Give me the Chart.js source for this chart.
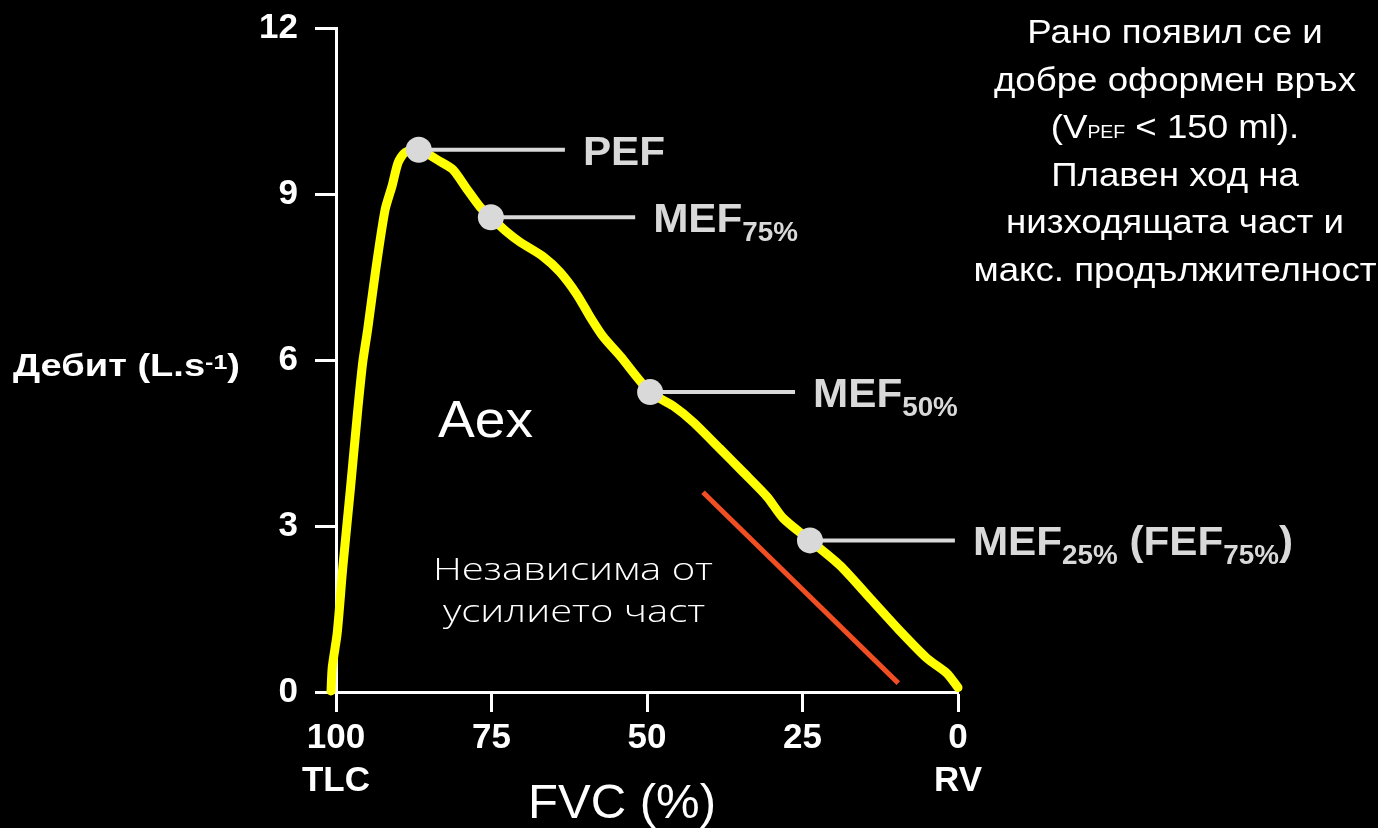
<!DOCTYPE html>
<html>
<head>
<meta charset="utf-8">
<script src="https://cdn.jsdelivr.net/npm/chart.js@4.4.1/dist/chart.umd.min.js"></script>
<style>
  html, body { margin: 0; padding: 0; background: #000; }
  #wrap { width: 1378px; height: 828px; position: relative; background: #000; }
  canvas { display: block; }
</style>
</head>
<body>
<div id="wrap"><canvas id="c" width="1378" height="828"></canvas></div>
<script>
// ---- data ----
const fvcPercent = [100.8, 100.6, 99.8, 98.9, 97.7, 96.5, 95.7, 94.9, 93.6, 92.1,
                    91.0, 90.0, 88.9, 86.7, 83.3, 81.2, 78.9, 76.8, 75.1, 72.5,
                    70.4, 66.7, 64.0, 61.3, 59.2, 57.1, 54.3, 49.5, 45.8, 42.6,
                    38.3, 34.6, 30.7, 28.1, 23.8, 19.0, 14.1, 9.3, 5.0, 1.8, 0];
const flow = [0.02, 0.45, 1.07, 2.26, 3.65, 5.10, 5.96, 6.56, 7.64, 8.72,
              9.14, 9.57, 9.75, 9.80, 9.59, 9.44, 9.08, 8.76, 8.58, 8.31,
              8.13, 7.87, 7.59, 7.19, 6.79, 6.43, 6.07, 5.42, 5.17, 4.88,
              4.40, 3.98, 3.53, 3.14, 2.74, 2.29, 1.69, 1.10, 0.61, 0.34, 0.08];

const markerFvc = [86.7, 75.1, 49.5, 23.8];
const markerFlow = [9.80, 8.58, 5.42, 2.74];
const leaderEndFvc = [63.2, 51.9, 26.2, 0.5];
const markerLabels = [
  [['PEF', 0]],
  [['MEF', 0], ['75%', 1]],
  [['MEF', 0], ['50%', 1]],
  [['MEF', 0], ['25%', 1], [' (FEF', 0], ['75%', 1], [')', 0]]
];

const effortFvc = [41.0, 9.6];
const effortFlow = [3.61, 0.16];

const xTickValues = [100, 75, 50, 25, 0];
const xTickLabels = [['100', 'TLC'], '75', '50', '25', ['0', 'RV']];
const yTickValues = [0, 3, 6, 9, 12];

const yTitleParts = [['Дебит (L.s', 0], ['-1', -1], [')', 0]];
const xTitle = 'FVC (%)';
const curveLabel = 'Aex';
const effortText = ['Независима от', 'усилието част'];
const noteLines = [
  [['Рано появил се и', 0]],
  [['добре оформен връх', 0]],
  [['(V', 0], ['PEF', 1], [' < 150 ml).', 0]],
  [['Плавен ход на', 0]],
  [['низходящата част и', 0]],
  [['макс. продължителност', 0]]
];

// ---- helpers ----
const SANS = '"Liberation Sans", Arial, Helvetica, sans-serif';

function partsWidth(ctx, parts, fonts) {
  let w = 0;
  for (const [t, k] of parts) { ctx.font = fonts[k === 0 ? 0 : 1]; w += ctx.measureText(t).width; }
  return w;
}
// parts: [text, kind] kind 0 normal, 1 subscript, -1 superscript
function drawRich(ctx, parts, x, y, opt) {
  const fonts = [opt.font, opt.smallFont || opt.font];
  const w = partsWidth(ctx, parts, fonts);
  const sx = opt.width ? opt.width / w : (opt.sx || 1);
  let start = x;
  if (opt.align === 'center') start = x - w * sx / 2;
  else if (opt.align === 'right') start = x - w * sx;
  ctx.save();
  ctx.fillStyle = opt.color || '#fff';
  ctx.textAlign = 'left';
  ctx.textBaseline = 'alphabetic';
  ctx.translate(start, y);
  ctx.scale(sx, 1);
  let cx = 0;
  for (const [t, k] of parts) {
    ctx.font = fonts[k === 0 ? 0 : 1];
    const dy = k === 1 ? (opt.subDy || 0) : (k === -1 ? (opt.supDy || 0) : 0);
    ctx.fillText(t, cx, dy);
    cx += ctx.measureText(t).width;
  }
  ctx.restore();
}

const textPlugin = {
  id: 'texts',
  afterDraw(chart) {
    const ctx = chart.ctx;
    const xs = chart.scales.x, ys = chart.scales.y;

    // marker labels
    markerLabels.forEach((parts, i) => {
      const px = xs.getPixelForValue(leaderEndFvc[i]) + 18;
      const py = ys.getPixelForValue(markerFlow[i]) + 15;
      drawRich(ctx, parts, px, py, {
        font: 'bold 41px ' + SANS, smallFont: 'bold 27px ' + SANS,
        subDy: 9, color: '#d9d9d9', sx: 1.03
      });
    });

    // y title
    drawRich(ctx, yTitleParts, 13, 376, {
      font: 'bold 32px ' + SANS, smallFont: 'bold 21px ' + SANS,
      supDy: -7, width: 227, color: '#fff'
    });

    // x title
    drawRich(ctx, [[xTitle, 0]], 622, 818, { font: '49px ' + SANS, width: 188, align: 'center' });

    // curve label
    drawRich(ctx, [[curveLabel, 0]], 438, 437, { font: '52px ' + SANS, width: 95 });

    // effort-independent text
    const lightFont = '300 32px "Open Sans", "Noto Sans", sans-serif';
    drawRich(ctx, [[effortText[0], 0]], 573, 580, { font: lightFont, width: 280, align: 'center' });
    drawRich(ctx, [[effortText[1], 0]], 574, 622, { font: lightFont, width: 262, align: 'center' });

    // note block
    const nf = ['34px ' + SANS, '18px ' + SANS];
    const w6 = partsWidth(ctx, noteLines[5], nf);
    const sx = 403 / w6;
    noteLines.forEach((parts, i) => {
      drawRich(ctx, parts, 1175, 43 + 47.6 * i, {
        font: nf[0], smallFont: nf[1], subDy: 0, sx: sx, align: 'center'
      });
    });
  }
};

// ---- datasets ----
const datasets = [];
datasets.push({
  label: 'markers',
  data: markerFvc.map((x, i) => ({ x, y: markerFlow[i] })),
  showLine: false, pointRadius: 13, pointHoverRadius: 13,
  pointBackgroundColor: '#d9d9d9', pointBorderWidth: 0, order: 0, clip: false
});
markerFvc.forEach((x, i) => {
  datasets.push({
    label: 'leader' + i,
    data: [{ x, y: markerFlow[i] }, { x: leaderEndFvc[i], y: markerFlow[i] }],
    showLine: true, borderColor: '#d9d9d9', borderWidth: 4, pointRadius: 0, order: 1, clip: false
  });
});
datasets.push({
  label: 'Aex',
  data: fvcPercent.map((x, i) => ({ x, y: flow[i] })),
  showLine: true, borderColor: '#ffff00', borderWidth: 9, pointRadius: 0,
  tension: 0.25, borderCapStyle: 'round', borderJoinStyle: 'round', order: 2, clip: false
});
datasets.push({
  label: 'effort',
  data: effortFvc.map((x, i) => ({ x, y: effortFlow[i] })),
  showLine: true, borderColor: '#f04e23', borderWidth: 5, pointRadius: 0, order: 3, clip: false
});

const tickFont = { family: SANS, size: 35, weight: 'bold', lineHeight: 1.23 };

new Chart(document.getElementById('c'), {
  type: 'scatter',
  data: { datasets },
  options: {
    responsive: false,
    animation: false,
    devicePixelRatio: 1,
    events: [],
    layout: { padding: { left: 0, right: 420, top: 28, bottom: 0 } },
    plugins: { legend: { display: false }, tooltip: { enabled: false } },
    scales: {
      x: {
        type: 'linear', reverse: true, min: 0, max: 100,
        afterFit: s => { s.height = 136; s.paddingLeft = 0; s.paddingRight = 0; },
        afterBuildTicks: s => { s.ticks = xTickValues.map(v => ({ value: v })); },
        border: { display: true, color: '#fff', width: 3 },
        grid: { drawOnChartArea: false, drawTicks: true, tickLength: 20, tickWidth: 3, tickColor: '#fff', color: '#fff' },
        ticks: {
          color: '#fff', padding: 5, font: tickFont, maxRotation: 0, autoSkip: false,
          callback: v => xTickLabels[xTickValues.indexOf(v)]
        }
      },
      y: {
        type: 'linear', min: 0, max: 12,
        afterFit: s => { s.width = 336; s.paddingTop = 0; s.paddingBottom = 0; },
        afterBuildTicks: s => { s.ticks = yTickValues.map(v => ({ value: v })); },
        border: { display: true, color: '#fff', width: 3 },
        grid: { drawOnChartArea: false, drawTicks: true, tickLength: 21, tickWidth: 3, tickColor: '#fff', color: '#fff' },
        ticks: { color: '#fff', padding: 17, font: tickFont, callback: v => String(v) }
      }
    }
  },
  plugins: [textPlugin]
});
</script>
</body>
</html>
